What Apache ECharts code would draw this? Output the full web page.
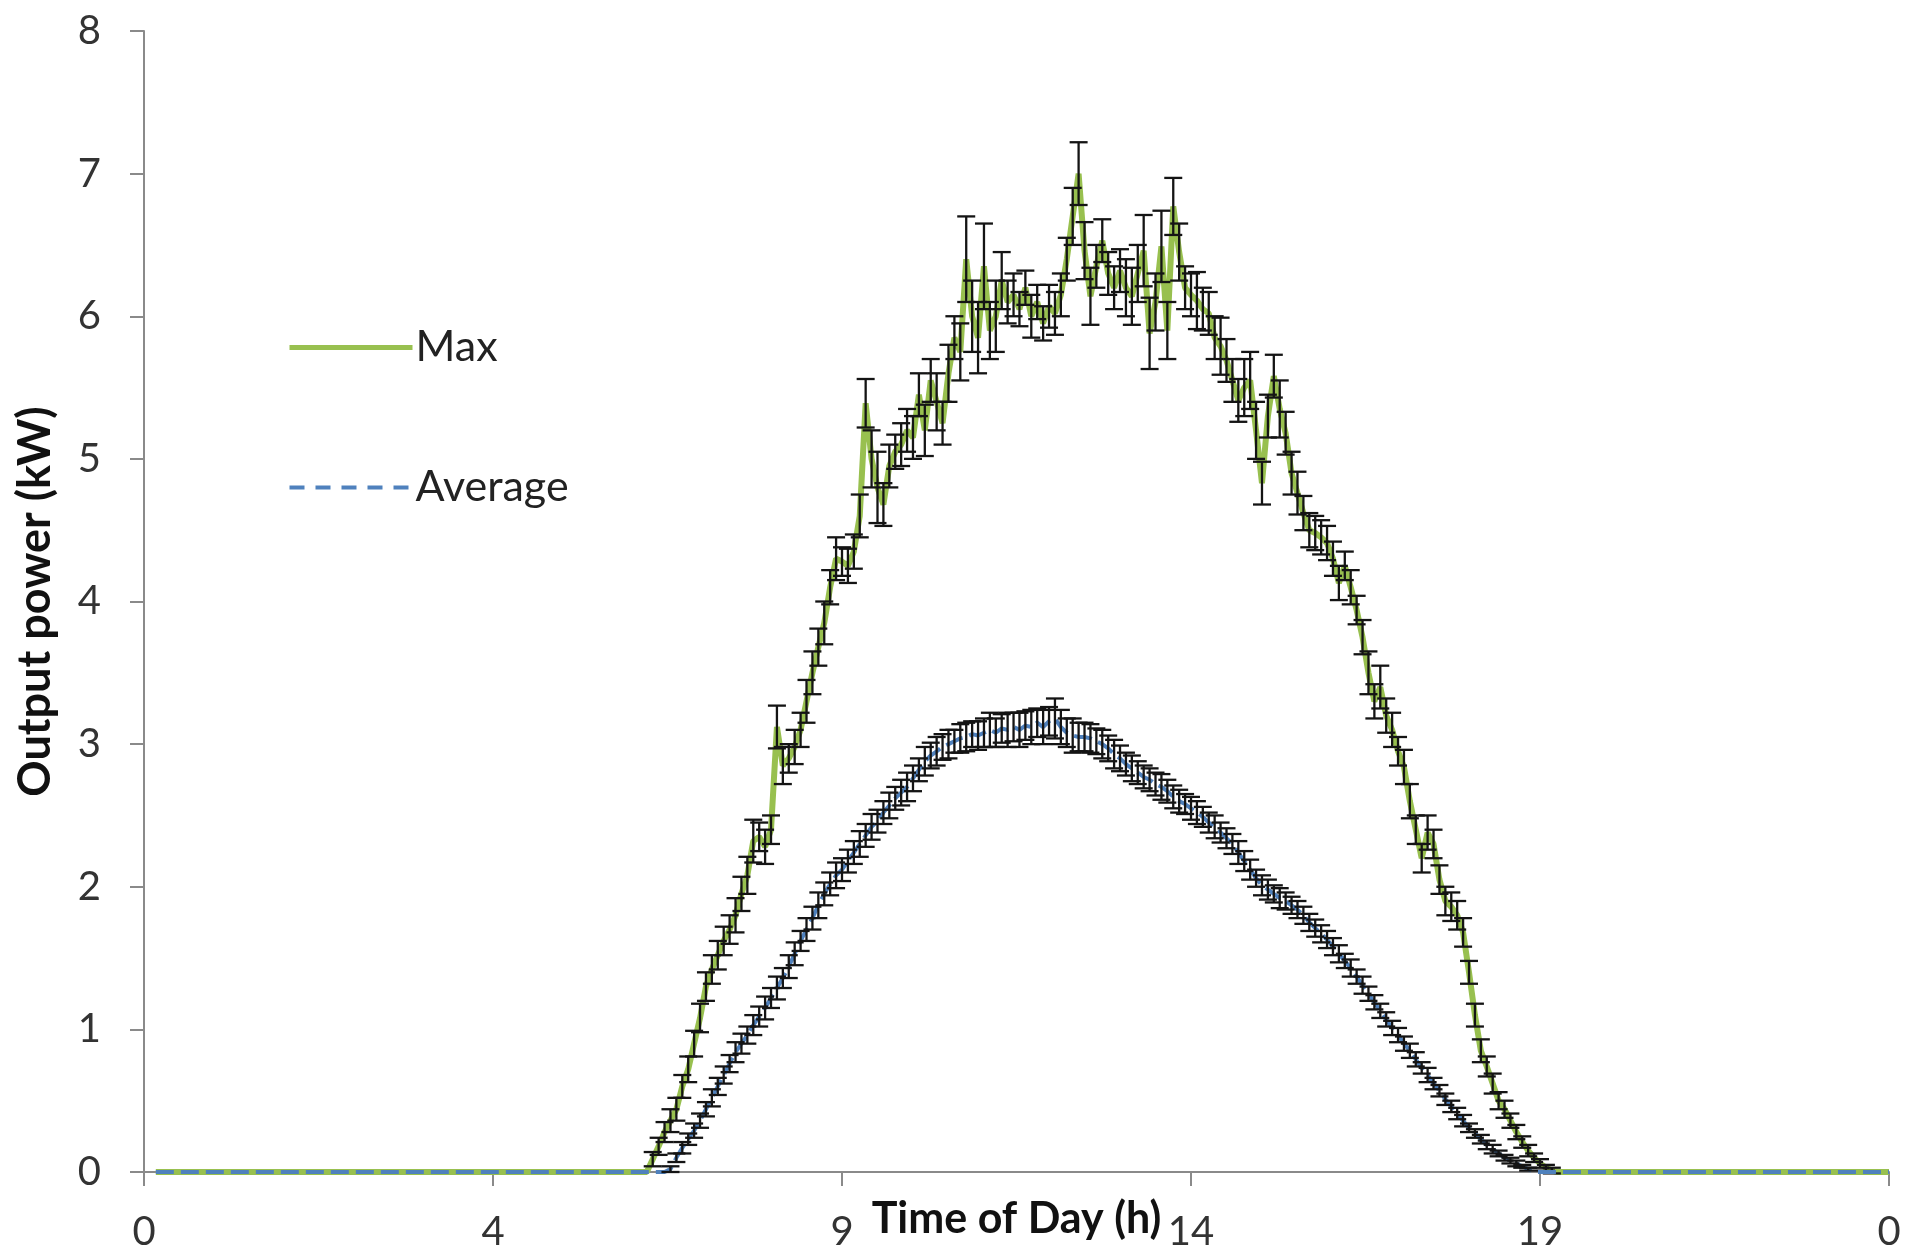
<!DOCTYPE html>
<html>
<head>
<meta charset="utf-8">
<title>Output power</title>
<script src="https://cdn.jsdelivr.net/npm/echarts@6/dist/echarts.min.js"></script>
<style>
  html, body { margin: 0; padding: 0; background: #fff; }
  #main { width: 1927px; height: 1259px; }
</style>
</head>
<body>
<div id="main"></div>
<script>
// x axis: one point every 5 min, a label every 59 points
var tickLabels = ['0', '4', '9', '14', '19', '0'];
var labelStep = 59;

// Max output power (kW), index 0..295 (no reading for the first two)
var maxPower = [
    null, null, 0, 0, 0, 0, 0, 0, 0, 0,
    0, 0, 0, 0, 0, 0, 0, 0, 0, 0,
    0, 0, 0, 0, 0, 0, 0, 0, 0, 0,
    0, 0, 0, 0, 0, 0, 0, 0, 0, 0,
    0, 0, 0, 0, 0, 0, 0, 0, 0, 0,
    0, 0, 0, 0, 0, 0, 0, 0, 0, 0,
    0, 0, 0, 0, 0, 0, 0, 0, 0, 0,
    0, 0, 0, 0, 0, 0, 0, 0, 0, 0,
    0, 0, 0, 0, 0, 0, 0.09, 0.18, 0.28, 0.36,
    0.44, 0.6, 0.72, 0.9, 1.08, 1.3, 1.42, 1.52, 1.62, 1.7,
    1.8, 1.95, 2.08, 2.32, 2.35, 2.28, 2.4, 3.12, 2.85, 2.9,
    2.98, 3.1, 3.3, 3.5, 3.68, 3.85, 4.1, 4.3, 4.28, 4.25,
    4.35, 4.6, 5.39, 5.0, 4.8, 4.68, 4.95, 5.05, 5.1, 5.2,
    5.15, 5.45, 5.2, 5.55, 5.4, 5.25, 5.6, 5.85, 5.75, 6.4,
    6.0, 5.85, 6.35, 5.9, 6.0, 6.25, 6.1, 6.15, 6.05, 6.2,
    6.0, 6.1, 5.95, 6.07, 6.02, 6.15, 6.4, 6.7, 7.0, 6.46,
    6.14, 6.35, 6.53, 6.3, 6.2, 6.32, 6.2, 6.14, 6.3, 6.46,
    5.88, 6.1, 6.49, 5.9, 6.77, 6.45, 6.2, 6.15, 6.11, 6.05,
    6.02, 5.85, 5.79, 5.69, 5.55, 5.41, 5.5, 5.55, 5.2, 4.83,
    5.3, 5.58, 5.35, 5.18, 4.9, 4.76, 4.62, 4.5, 4.48, 4.45,
    4.41, 4.3, 4.13, 4.25, 4.1, 3.94, 3.75, 3.5, 3.3, 3.4,
    3.2, 3.1, 2.95, 2.84, 2.6, 2.4, 2.2, 2.38, 2.3, 2.05,
    1.9, 1.86, 1.8, 1.68, 1.4, 1.1, 0.85, 0.74, 0.62, 0.5,
    0.44, 0.36, 0.28, 0.21, 0.15, 0.1, 0.06, 0.03, 0.01, 0,
    0, 0, 0, 0, 0, 0, 0, 0, 0, 0,
    0, 0, 0, 0, 0, 0, 0, 0, 0, 0,
    0, 0, 0, 0, 0, 0, 0, 0, 0, 0,
    0, 0, 0, 0, 0, 0, 0, 0, 0, 0,
    0, 0, 0, 0, 0, 0, 0, 0, 0, 0,
    0, 0, 0, 0, 0, 0
];

// error (+/-) on Max
var maxErr = [
    0, 0, 0, 0, 0, 0, 0, 0, 0, 0,
    0, 0, 0, 0, 0, 0, 0, 0, 0, 0,
    0, 0, 0, 0, 0, 0, 0, 0, 0, 0,
    0, 0, 0, 0, 0, 0, 0, 0, 0, 0,
    0, 0, 0, 0, 0, 0, 0, 0, 0, 0,
    0, 0, 0, 0, 0, 0, 0, 0, 0, 0,
    0, 0, 0, 0, 0, 0, 0, 0, 0, 0,
    0, 0, 0, 0, 0, 0, 0, 0, 0, 0,
    0, 0, 0, 0, 0, 0, 0.05, 0.06, 0.07, 0.08,
    0.08, 0.08, 0.09, 0.09, 0.1, 0.1, 0.1, 0.1, 0.1, 0.1,
    0.12, 0.12, 0.13, 0.15, 0.1, 0.12, 0.1, 0.15, 0.13, 0.1,
    0.12, 0.12, 0.15, 0.15, 0.13, 0.15, 0.12, 0.15, 0.1, 0.12,
    0.12, 0.15, 0.17, 0.2, 0.25, 0.15, 0.15, 0.12, 0.15, 0.15,
    0.15, 0.15, 0.18, 0.15, 0.2, 0.15, 0.2, 0.15, 0.2, 0.3,
    0.25, 0.25, 0.3, 0.2, 0.25, 0.2, 0.15, 0.15, 0.12, 0.12,
    0.15, 0.12, 0.12, 0.15, 0.15, 0.15, 0.15, 0.2, 0.22, 0.2,
    0.2, 0.15, 0.15, 0.15, 0.15, 0.15, 0.2, 0.2, 0.2, 0.25,
    0.25, 0.2, 0.25, 0.2, 0.2, 0.2, 0.15, 0.15, 0.2, 0.15,
    0.15, 0.15, 0.2, 0.15, 0.15, 0.15, 0.2, 0.2, 0.2, 0.15,
    0.15, 0.15, 0.2, 0.15, 0.15, 0.15, 0.12, 0.12, 0.12, 0.12,
    0.12, 0.12, 0.12, 0.1, 0.12, 0.1, 0.12, 0.15, 0.12, 0.15,
    0.12, 0.12, 0.1, 0.12, 0.12, 0.1, 0.1, 0.12, 0.1, 0.1,
    0.1, 0.1, 0.1, 0.1, 0.08, 0.08, 0.08, 0.07, 0.07, 0.06,
    0.06, 0.05, 0.05, 0.04, 0.04, 0.03, 0.03, 0.02, 0.02, 0,
    0, 0, 0, 0, 0, 0, 0, 0, 0, 0,
    0, 0, 0, 0, 0, 0, 0, 0, 0, 0,
    0, 0, 0, 0, 0, 0, 0, 0, 0, 0,
    0, 0, 0, 0, 0, 0, 0, 0, 0, 0,
    0, 0, 0, 0, 0, 0, 0, 0, 0, 0,
    0, 0, 0, 0, 0, 0
];

// Average output power (kW), index 0..295 (no reading for the first two)
var avgPower = [
    null, null, 0, 0, 0, 0, 0, 0, 0, 0,
    0, 0, 0, 0, 0, 0, 0, 0, 0, 0,
    0, 0, 0, 0, 0, 0, 0, 0, 0, 0,
    0, 0, 0, 0, 0, 0, 0, 0, 0, 0,
    0, 0, 0, 0, 0, 0, 0, 0, 0, 0,
    0, 0, 0, 0, 0, 0, 0, 0, 0, 0,
    0, 0, 0, 0, 0, 0, 0, 0, 0, 0,
    0, 0, 0, 0, 0, 0, 0, 0, 0, 0,
    0, 0, 0, 0, 0, 0, 0, 0, 0, 0.02,
    0.1, 0.17, 0.23, 0.29, 0.36, 0.44, 0.52, 0.6, 0.68, 0.76,
    0.84, 0.9, 0.96, 1.03, 1.09, 1.15, 1.22, 1.29, 1.36, 1.44,
    1.53, 1.62, 1.7, 1.78, 1.87, 1.95, 2.02, 2.08, 2.12, 2.18,
    2.24, 2.3, 2.36, 2.42, 2.46, 2.52, 2.57, 2.62, 2.66, 2.7,
    2.76, 2.82, 2.88, 2.92, 2.95, 2.98, 3.0, 3.02, 3.04, 3.05,
    3.07, 3.06, 3.08, 3.1, 3.08, 3.11, 3.1, 3.12, 3.1, 3.13,
    3.12, 3.15, 3.12, 3.16, 3.18, 3.12, 3.08, 3.06, 3.05, 3.05,
    3.04, 3.02, 3.0, 2.97, 2.93, 2.9, 2.86, 2.83, 2.8, 2.77,
    2.75, 2.72, 2.7, 2.67, 2.63, 2.6, 2.58, 2.55, 2.52, 2.49,
    2.45, 2.42, 2.38, 2.34, 2.3, 2.24, 2.18, 2.12, 2.06, 2.01,
    1.98, 1.95, 1.92, 1.9, 1.87, 1.84, 1.8, 1.75, 1.71, 1.67,
    1.63, 1.58, 1.53, 1.48, 1.43, 1.37, 1.31, 1.25, 1.19, 1.13,
    1.07, 1.01, 0.96, 0.9, 0.85, 0.79, 0.73, 0.68, 0.62, 0.57,
    0.51, 0.46, 0.41, 0.36, 0.31, 0.27, 0.23, 0.19, 0.16, 0.13,
    0.1, 0.08, 0.06, 0.04, 0.02, 0, 0, 0, 0, 0,
    0, 0, 0, 0, 0, 0, 0, 0, 0, 0,
    0, 0, 0, 0, 0, 0, 0, 0, 0, 0,
    0, 0, 0, 0, 0, 0, 0, 0, 0, 0,
    0, 0, 0, 0, 0, 0, 0, 0, 0, 0,
    0, 0, 0, 0, 0, 0, 0, 0, 0, 0,
    0, 0, 0, 0, 0, 0
];

// error (+/-) on Average
var avgErr = [
    0, 0, 0, 0, 0, 0, 0, 0, 0, 0,
    0, 0, 0, 0, 0, 0, 0, 0, 0, 0,
    0, 0, 0, 0, 0, 0, 0, 0, 0, 0,
    0, 0, 0, 0, 0, 0, 0, 0, 0, 0,
    0, 0, 0, 0, 0, 0, 0, 0, 0, 0,
    0, 0, 0, 0, 0, 0, 0, 0, 0, 0,
    0, 0, 0, 0, 0, 0, 0, 0, 0, 0,
    0, 0, 0, 0, 0, 0, 0, 0, 0, 0,
    0, 0, 0, 0, 0, 0, 0, 0, 0, 0.02,
    0.03, 0.04, 0.04, 0.05, 0.05, 0.05, 0.06, 0.06, 0.06, 0.06,
    0.07, 0.07, 0.06, 0.07, 0.07, 0.08, 0.07, 0.08, 0.07, 0.08,
    0.08, 0.07, 0.08, 0.08, 0.09, 0.08, 0.08, 0.09, 0.08, 0.08,
    0.08, 0.09, 0.08, 0.09, 0.08, 0.08, 0.09, 0.08, 0.09, 0.1,
    0.09, 0.08, 0.1, 0.09, 0.1, 0.09, 0.1, 0.08, 0.1, 0.1,
    0.09, 0.1, 0.1, 0.12, 0.1, 0.1, 0.12, 0.1, 0.12, 0.1,
    0.12, 0.1, 0.12, 0.1, 0.14, 0.12, 0.1, 0.12, 0.1, 0.1,
    0.1, 0.09, 0.1, 0.09, 0.1, 0.09, 0.08, 0.09, 0.08, 0.08,
    0.08, 0.08, 0.09, 0.08, 0.08, 0.08, 0.07, 0.08, 0.08, 0.07,
    0.07, 0.08, 0.07, 0.07, 0.07, 0.08, 0.07, 0.07, 0.06, 0.07,
    0.07, 0.06, 0.07, 0.06, 0.06, 0.06, 0.06, 0.06, 0.06, 0.06,
    0.06, 0.06, 0.06, 0.05, 0.06, 0.05, 0.06, 0.05, 0.05, 0.05,
    0.05, 0.05, 0.05, 0.05, 0.05, 0.05, 0.04, 0.05, 0.04, 0.04,
    0.04, 0.04, 0.04, 0.04, 0.03, 0.03, 0.03, 0.03, 0.03, 0.02,
    0.02, 0.02, 0.02, 0.01, 0.01, 0, 0, 0, 0, 0,
    0, 0, 0, 0, 0, 0, 0, 0, 0, 0,
    0, 0, 0, 0, 0, 0, 0, 0, 0, 0,
    0, 0, 0, 0, 0, 0, 0, 0, 0, 0,
    0, 0, 0, 0, 0, 0, 0, 0, 0, 0,
    0, 0, 0, 0, 0, 0, 0, 0, 0, 0,
    0, 0, 0, 0, 0, 0
];

function toLine(values) {
    return values.map(function (v, i) { return [i, v]; });
}

function toBars(values, errs) {
    var out = [];
    values.forEach(function (v, i) {
        if (errs[i] > 0) out.push([i, v - errs[i], v + errs[i]]);
    });
    return out;
}

// vertical error bar with caps
function renderErrorBar(params, api) {
    var x = api.value(0);
    var lo = api.coord([x, api.value(1)]);
    var hi = api.coord([x, api.value(2)]);
    var half = 9;
    var style = { stroke: '#141414', lineWidth: 2.3 };
    return {
        type: 'group',
        children: [
            { type: 'line', shape: { x1: lo[0], y1: lo[1], x2: hi[0], y2: hi[1] }, style: style },
            { type: 'line', shape: { x1: lo[0] - half, y1: lo[1], x2: lo[0] + half, y2: lo[1] }, style: style },
            { type: 'line', shape: { x1: hi[0] - half, y1: hi[1], x2: hi[0] + half, y2: hi[1] }, style: style }
        ]
    };
}

var font = 'Lato, "Open Sans", sans-serif';
var green = '#98c04f';
var blue = '#4f81bd';

var chart = echarts.init(document.getElementById('main'));
var option = {
    backgroundColor: '#ffffff',
    animation: false,
    grid: { left: 144, right: 38, top: 31, bottom: 87, containLabel: false, outerBoundsMode: 'none' },
    legend: {
        orient: 'vertical',
        left: 282,
        top: 321,
        itemWidth: 123,
        itemHeight: 30,
        itemGap: 97,
        itemStyle: { opacity: 0 },
        textStyle: { fontFamily: font, fontSize: 43, color: '#222', padding: [0, 0, 0, -2] },
        data: [
            { name: 'Max', lineStyle: { width: 5 } },
            { name: 'Average', lineStyle: { width: 4, type: [15, 11] } }
        ]
    },
    xAxis: {
        type: 'value',
        min: 0,
        max: labelStep * (tickLabels.length - 1),
        interval: labelStep,
        name: 'Time of Day (h)',
        nameLocation: 'middle',
        nameGap: 26,
        nameMoveOverlap: false,
        nameTextStyle: { fontFamily: font, fontSize: 43, fontWeight: 'bold', color: '#111' },
        axisLine: { show: true, lineStyle: { color: '#8a8a8a', width: 2 } },
        axisTick: { show: true, inside: false, length: 14, lineStyle: { color: '#8a8a8a', width: 2 } },
        axisLabel: {
            margin: 40,
            fontFamily: font,
            fontSize: 40,
            color: '#333',
            formatter: function (v) { return tickLabels[Math.round(v / labelStep)]; }
        },
        splitLine: { show: false }
    },
    yAxis: {
        type: 'value',
        min: 0,
        max: 8,
        interval: 1,
        name: 'Output power (kW)',
        nameLocation: 'middle',
        nameRotate: 90,
        nameGap: 86,
        nameMoveOverlap: false,
        nameTextStyle: { fontFamily: font, fontSize: 45, fontWeight: 'bold', color: '#111' },
        axisLine: { show: true, lineStyle: { color: '#8a8a8a', width: 2 } },
        axisTick: { show: true, inside: false, length: 14, lineStyle: { color: '#8a8a8a', width: 2 } },
        axisLabel: { margin: 43, fontFamily: font, fontSize: 40, color: '#333' },
        splitLine: { show: false }
    },
    series: [
        {
            name: 'Max',
            type: 'line',
            data: toLine(maxPower),
            symbol: 'none',
            color: green,
            lineStyle: { color: green, width: 6 },
            z: 2
        },
        {
            name: 'maxErr',
            type: 'custom',
            renderItem: renderErrorBar,
            data: toBars(maxPower, maxErr),
            encode: { x: 0, y: [1, 2] },
            z: 3
        },
        {
            name: 'Average',
            type: 'line',
            data: toLine(avgPower),
            symbol: 'none',
            color: blue,
            lineStyle: { color: blue, width: 4, type: [18, 7] },
            z: 4
        },
        {
            name: 'avgErr',
            type: 'custom',
            renderItem: renderErrorBar,
            data: toBars(avgPower, avgErr),
            encode: { x: 0, y: [1, 2] },
            z: 5
        }
    ]
};
chart.setOption(option);
</script>
</body>
</html>
